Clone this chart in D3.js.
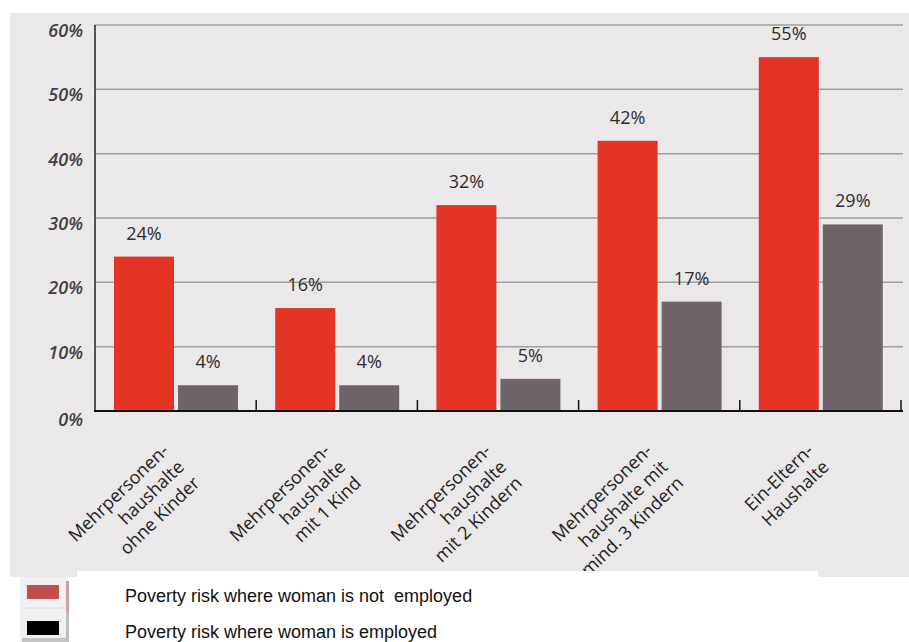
<!DOCTYPE html>
<html>
<head>
<meta charset="utf-8">
<script src="https://cdn.jsdelivr.net/npm/d3@7"></script>
<style>
  html, body { margin: 0; padding: 0; background: #ffffff; }
  svg { display: block; }
</style>
</head>
<body>
<svg id="chart" width="909" height="642"></svg>
<script>
// ---- data ----
const categories = [
  "Mehrpersonen-\nhaushalte\nohne Kinder",
  "Mehrpersonen-\nhaushalte\nmit 1 Kind",
  "Mehrpersonen-\nhaushalte\nmit 2 Kindern",
  "Mehrpersonen-\nhaushalte mit\nmind. 3 Kindern",
  "Ein-Eltern-\nHaushalte"
];
const seriesNames = [
  "Poverty risk where woman is not  employed",
  "Poverty risk where woman is employed"
];
const notEmployed = [24, 16, 32, 42, 55];
const employed = [4, 4, 5, 17, 29];
const yTicks = [0, 10, 20, 30, 40, 50, 60];

// ---- setup ----
const svg = d3.select("#chart");
const FONT = "'Open Sans', 'Noto Sans', sans-serif";

svg.append("rect").attr("x", 10).attr("y", 13).attr("width", 899).attr("height", 564)
  .attr("fill", "#EAE8E9");

const x = d3.scaleBand().domain(categories).range([95, 901]).paddingInner(0).paddingOuter(0);
const xs = d3.scaleBand().domain(seriesNames).range([19, 143]).paddingInner(0.0625);
const y = d3.scaleLinear().domain([0, 60]).range([411, 25]);

const barColors = ["#E33426", "#6E6469"];
const legendColors = ["#C0504D", "#000000"];

// gridlines
svg.append("g").selectAll("line").data(yTicks.filter(t => t > 0)).join("line")
  .attr("x1", 95).attr("x2", 903)
  .attr("y1", d => y(d)).attr("y2", d => y(d))
  .attr("stroke", "#A0A0A0").attr("stroke-width", 1.5);

// y tick labels
svg.append("g").selectAll("text").data(yTicks).join("text")
  .attr("x", 83).attr("y", d => y(d) + (d === 0 ? 15 : 12))
  .attr("text-anchor", "end")
  .attr("font-family", FONT).attr("font-style", "italic").attr("font-weight", 600)
  .attr("font-size", 18).attr("fill", "#404040")
  .text(d => d + "%");

// bars
const rows = categories.map((c, i) => ({ c, vals: [notEmployed[i], employed[i]] }));
const groups = svg.append("g").selectAll("g").data(rows).join("g")
  .attr("transform", d => `translate(${x(d.c)},0)`);

groups.selectAll("rect").data(d => d.vals.map((v, k) => ({ v, k }))).join("rect")
  .attr("x", d => xs(seriesNames[d.k]))
  .attr("width", xs.bandwidth())
  .attr("y", d => y(d.v))
  .attr("height", d => y(0) - y(d.v))
  .attr("fill", d => barColors[d.k]);

groups.selectAll("text.val").data(d => d.vals.map((v, k) => ({ v, k }))).join("text")
  .attr("class", "val")
  .attr("x", d => xs(seriesNames[d.k]) + xs.bandwidth() / 2)
  .attr("y", d => y(d.v) - 17)
  .attr("text-anchor", "middle")
  .attr("font-family", FONT).attr("font-size", 18).attr("fill", "#2e2e2e")
  .text(d => d.v + "%");

// axes lines
svg.append("line").attr("x1", 95).attr("x2", 95).attr("y1", y(60)).attr("y2", y(0) + 1)
  .attr("stroke", "#222").attr("stroke-width", 1.5);
svg.append("line").attr("x1", 94).attr("x2", 903).attr("y1", y(0)).attr("y2", y(0))
  .attr("stroke", "#111").attr("stroke-width", 2);

// category boundary ticks
const bounds = categories.slice(1).map(c => x(c)).concat([x.range()[1]]);
svg.append("g").selectAll("line").data(bounds).join("line")
  .attr("x1", d => d).attr("x2", d => d)
  .attr("y1", y(0) - 11).attr("y2", y(0))
  .attr("stroke", "#111").attr("stroke-width", 1.5);

// category labels (rotated, right aligned)
const catLabels = svg.append("g").selectAll("text").data(categories).join("text")
  .attr("transform", d => `translate(${x(d) + x.bandwidth() / 2 - 6},452) rotate(-44)`)
  .attr("text-anchor", "end")
  .attr("font-family", FONT).attr("font-size", 18).attr("fill", "#222");
catLabels.selectAll("tspan").data(d => d.split("\n")).join("tspan")
  .attr("x", 0).attr("dy", (d, i) => i === 0 ? 0 : 22.5)
  .text(d => d);

// legend area
svg.append("rect").attr("x", 77).attr("y", 571).attr("width", 741).attr("height", 71)
  .attr("fill", "#ffffff");
svg.append("rect").attr("x", 20).attr("y", 577).attr("width", 48).attr("height", 65)
  .attr("fill", "#F1F1F1");
svg.append("rect").attr("x", 66).attr("y", 581).attr("width", 3).attr("height", 31)
  .attr("fill", "#C9A3A3");
svg.append("rect").attr("x", 66).attr("y", 612).attr("width", 3).attr("height", 30)
  .attr("fill", "#BDBDBD");
svg.append("rect").attr("x", 22).attr("y", 638).attr("width", 47).attr("height", 4)
  .attr("fill", "#C4C4C4");
svg.append("line").attr("x1", 21).attr("x2", 66).attr("y1", 608).attr("y2", 608)
  .attr("stroke", "#DDDDDD").attr("stroke-width", 1);

const legend = svg.append("g").selectAll("g").data(seriesNames).join("g")
  .attr("transform", (d, i) => `translate(0,${i * 36})`);
legend.append("rect").attr("x", 27).attr("y", 585).attr("width", 32).attr("height", 14)
  .attr("fill", (d, i) => legendColors[i]);
legend.append("text").attr("x", 125).attr("y", 602)
  .attr("font-family", "'Liberation Sans', Arial, sans-serif").attr("font-size", 18)
  .attr("fill", "#111").style("white-space", "pre")
  .text(d => d);
</script>
</body>
</html>
